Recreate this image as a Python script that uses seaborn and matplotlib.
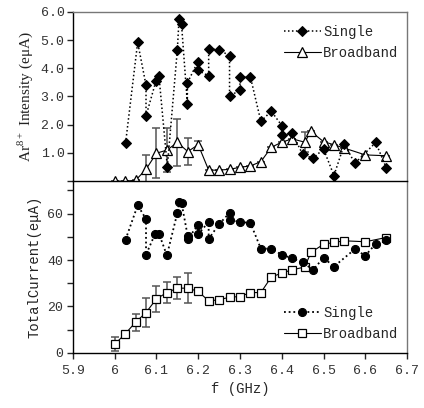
import numpy as np
import pandas as pd
import matplotlib
matplotlib.use("Agg")
import matplotlib.pyplot as plt
import seaborn as sns

# ---------------- data ----------------
# top panel: Ar8+ intensity (eμA)
single_top_f = [6.026, 6.055, 6.075, 6.075, 6.099, 6.106, 6.126, 6.150, 6.154, 6.160,
                6.174, 6.174, 6.199, 6.199, 6.225, 6.225, 6.250, 6.275, 6.275, 6.300,
                6.300, 6.325, 6.350, 6.375, 6.400, 6.400, 6.425, 6.450, 6.475, 6.500,
                6.525, 6.550, 6.575, 6.625, 6.650]
single_top_i = [1.34, 4.92, 3.40, 2.31, 3.56, 3.73, 0.51, 4.65, 5.73, 5.57,
                2.74, 3.48, 4.23, 3.93, 3.73, 4.68, 4.66, 4.44, 3.01, 3.23,
                3.69, 3.69, 2.12, 2.48, 1.97, 1.62, 1.71, 0.95, 0.81, 1.14,
                0.20, 1.32, 0.63, 1.37, 0.48]

bb_f = [6.000, 6.025, 6.050, 6.075, 6.100, 6.125, 6.150, 6.175, 6.200, 6.225,
        6.250, 6.275, 6.300, 6.325, 6.350, 6.375, 6.400, 6.425, 6.455, 6.470,
        6.500, 6.525, 6.550, 6.600, 6.650]
bb_top_i = [0.00, 0.00, 0.03, 0.42, 0.99, 1.10, 1.37, 1.05, 1.29, 0.39,
            0.39, 0.42, 0.49, 0.54, 0.69, 1.20, 1.38, 1.50, 1.38, 1.76,
            1.40, 1.29, 1.17, 0.93, 0.90]
bb_top_err = [0.0, 0.0, 0.0, 0.52, 0.89, 0.78, 0.83, 0.47, 0.15, 0.0,
              0.0, 0.0, 0.0, 0.0, 0.0, 0.0, 0.0, 0.0, 0.35, 0.0,
              0.0, 0.0, 0.0, 0.0, 0.0]

# bottom panel: total current (eμA)
single_bot_f = [6.026, 6.055, 6.075, 6.075, 6.097, 6.106, 6.125, 6.150, 6.155, 6.160,
                6.175, 6.175, 6.200, 6.200, 6.225, 6.225, 6.250, 6.275, 6.275, 6.300,
                6.325, 6.350, 6.375, 6.400, 6.425, 6.450, 6.475, 6.500, 6.525, 6.575,
                6.600, 6.625, 6.650]
single_bot_c = [48.8, 63.6, 57.7, 42.3, 51.4, 51.4, 42.0, 60.3, 65.0, 64.6,
                50.2, 49.1, 55.2, 51.2, 56.4, 49.1, 55.5, 60.3, 57.4, 56.4,
                56.0, 44.9, 44.9, 42.3, 40.8, 39.0, 35.8, 41.0, 37.2, 44.7,
                41.9, 47.0, 48.8]

bb_bot_c = [3.7, 8.2, 13.2, 17.4, 23.3, 26.0, 27.9, 27.9, 26.5, 22.4,
            22.9, 24.0, 24.3, 26.0, 26.0, 32.7, 34.4, 35.8, 37.0, 43.3,
            46.8, 47.6, 48.3, 47.9, 49.7]
bb_bot_err = [3.0, 0.0, 3.7, 6.3, 5.5, 4.5, 4.6, 6.5, 1.0, 0.0,
              0.0, 0.0, 0.0, 0.0, 0.0, 0.0, 0.0, 0.0, 0.0, 0.0,
              0.0, 0.0, 0.0, 0.0, 0.0]

x_ticks = [5.9, 6.0, 6.1, 6.2, 6.3, 6.4, 6.5, 6.6, 6.7]
x_ticklabels = ["5.9", "6", "6.1", "6.2", "6.3", "6.4", "6.5", "6.6", "6.7"]
top_yticks = [0, 1, 2, 3, 4, 5, 6]
top_yticklabels = ["", "1.0", "2.0", "3.0", "4.0", "5.0", "6.0"]
bot_yticks = [0, 20, 40, 60]

# ---------------- style ----------------
sns.set_style("white")
plt.rcParams["font.family"] = ["Liberation Mono", "DejaVu Sans"]
plt.rcParams["mathtext.fontset"] = "custom"
plt.rcParams["mathtext.rm"] = "Liberation Serif"

fig = plt.figure(figsize=(4.24, 4.08), dpi=100)
ax1 = fig.add_axes([0.172, 0.556, 0.788, 0.415])
ax2 = fig.add_axes([0.172, 0.135, 0.788, 0.421])

df_st = pd.DataFrame({"f": single_top_f, "v": single_top_i})
df_bt = pd.DataFrame({"f": bb_f, "v": bb_top_i})
df_sb = pd.DataFrame({"f": single_bot_f, "v": single_bot_c})
df_bb = pd.DataFrame({"f": bb_f, "v": bb_bot_c})

grey = "#555555"
dots = (0, (1, 1.6))

# ---- top panel ----
ax1.errorbar(bb_f, bb_top_i, yerr=bb_top_err, fmt="none", ecolor=grey,
             elinewidth=1.1, capsize=3.2, capthick=1.1, zorder=2)
sns.lineplot(data=df_bt, x="f", y="v", ax=ax1, sort=False, estimator=None,
             color="black", linewidth=0.8, marker="^", markersize=7,
             markerfacecolor="white", markeredgecolor="black", markeredgewidth=0.9,
             label="Broadband", zorder=3, clip_on=False)
sns.lineplot(data=df_st, x="f", y="v", ax=ax1, sort=False, estimator=None,
             color="black", linewidth=1.1, linestyle=dots, marker="D",
             markersize=5.5, markerfacecolor="black", markeredgecolor="black",
             label="Single", zorder=4)

# ---- bottom panel ----
ax2.errorbar(bb_f, bb_bot_c, yerr=bb_bot_err, fmt="none", ecolor=grey,
             elinewidth=1.1, capsize=3.2, capthick=1.1, zorder=2)
sns.lineplot(data=df_sb, x="f", y="v", ax=ax2, sort=False, estimator=None,
             color="black", linewidth=1.3, linestyle=dots, marker="o",
             markersize=5.8, markerfacecolor="black", markeredgecolor="black",
             label="Single", zorder=4)
sns.lineplot(data=df_bb, x="f", y="v", ax=ax2, sort=False, estimator=None,
             color="black", linewidth=0.8, marker="s", markersize=6,
             markerfacecolor="white", markeredgecolor="black", markeredgewidth=0.9,
             label="Broadband", zorder=3)

# ---- axes formatting ----
for ax in (ax1, ax2):
    ax.set_xlim(5.9, 6.7)
    for s in ("left", "bottom"):
        ax.spines[s].set_color("black")
        ax.spines[s].set_linewidth(1.0)
    for s in ("top", "right"):
        ax.spines[s].set_color("#777777")
        ax.spines[s].set_linewidth(1.0)

ax1.set_ylim(0, 6.0)
ax1.set_yticks(top_yticks)
ax1.set_yticklabels(top_yticklabels)
ax1.set_xticks([])
ax1.set_xlabel("")
ax1.set_ylabel("Ar$^{8+}$ Intensity (eμA)", fontsize=11,
               family=["Liberation Serif", "DejaVu Serif"], color="#222222")
ax1.spines["bottom"].set_visible(False)
ax1.tick_params(axis="y", direction="out", length=4, width=1, labelsize=9.5, pad=2,
                left=True)

ax2.set_ylim(0, 74)
ax2.set_yticks(bot_yticks)
ax2.set_yticks([10, 30, 50, 70], minor=True)
ax2.set_xticks(x_ticks)
ax2.set_xticklabels(x_ticklabels)
ax2.set_xlabel("f (GHz)", fontsize=10, labelpad=3)
ax2.set_ylabel("TotalCurrent(eμA)", fontsize=10, color="#222222")
ax2.spines["top"].set_color("black")
ax2.tick_params(axis="both", which="major", direction="out", length=4, width=1,
                labelsize=9.5, pad=3, left=True, bottom=True)
ax2.tick_params(axis="x", which="major", pad=5)
ax2.tick_params(axis="y", which="minor", direction="out", length=4, width=1, left=True)

for ax in (ax1, ax2):
    for t in ax.get_xticklabels() + ax.get_yticklabels():
        t.set_color("#333333")

# legends
h1, l1 = ax1.get_legend_handles_labels()
ax1.legend([h1[1], h1[0]], [l1[1], l1[0]], loc="upper right", frameon=False,
           fontsize=10, handlelength=2.6, handletextpad=0.2, labelspacing=0.5,
           bbox_to_anchor=(1.0, 0.97), borderaxespad=0.2)
h2, l2 = ax2.get_legend_handles_labels()
ax2.legend(h2, l2, loc="lower right", frameon=False, fontsize=10,
           handlelength=2.6, handletextpad=0.2, labelspacing=0.5,
           bbox_to_anchor=(1.0, 0.02), borderaxespad=0.2)

fig.savefig("out.png", dpi=100)
